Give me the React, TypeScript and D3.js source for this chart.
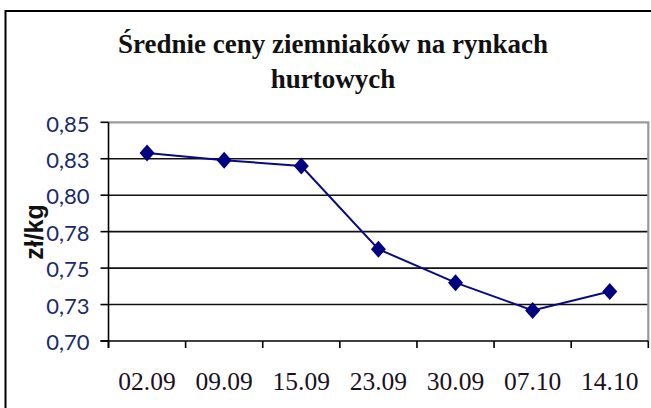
import React, { useEffect, useRef } from 'react';
import * as d3 from 'd3';

const weeks = ['02.09', '09.09', '15.09', '23.09', '30.09', '07.10', '14.10'];
const prices = [0.829, 0.824, 0.82, 0.763, 0.74, 0.721, 0.734];
const yTicks = [0.7, 0.725, 0.75, 0.775, 0.8, 0.825, 0.85];
const yTickLabels = ['0,70', '0,73', '0,75', '0,78', '0,80', '0,83', '0,85'];
const titleLines = ['Średnie ceny ziemniaków na rynkach', 'hurtowych'];

const SERIF = "'Liberation Serif', serif";

export default function App() {
  const ref = useRef<SVGSVGElement | null>(null);

  useEffect(() => {
    const width = 651;
    const height = 408;
    const margin = { top: 122.3, left: 108.5, bottom: 67, right: 2.7 };
    const iwidth = width - margin.left - margin.right;
    const iheight = height - margin.top - margin.bottom;

    const svg = d3.select(ref.current);
    svg.selectAll('*').remove();

    svg.append('rect')
      .attr('x', 0).attr('y', 0)
      .attr('width', width).attr('height', height)
      .attr('fill', '#fff');

    // outer chart frame (runs off the picture at right and bottom)
    svg.append('rect')
      .attr('x', 5.5).attr('y', 11)
      .attr('width', 700).attr('height', 450)
      .attr('fill', 'none')
      .attr('stroke', '#000')
      .attr('stroke-width', 2);

    svg.append('g')
      .selectAll('text')
      .data(titleLines)
      .enter().append('text')
      .attr('x', 333)
      .attr('y', (d, i) => 53 + i * 35)
      .attr('text-anchor', 'middle')
      .style('font-family', SERIF)
      .style('font-weight', 'bold')
      .style('font-size', '27px')
      .attr('fill', '#111')
      .text(d => d);

    const g = svg.append('g').attr('transform', `translate(${margin.left},${margin.top})`);

    const x = d3.scaleBand<string>()
      .domain(weeks)
      .range([0, iwidth]);

    const y = d3.scaleLinear()
      .domain([0.7, 0.85])
      .range([iheight, 0]);

    // grid lines
    g.append('g')
      .selectAll('line')
      .data(yTicks.slice(1, -1))
      .enter().append('line')
      .attr('x1', 0).attr('x2', iwidth)
      .attr('y1', d => y(d)).attr('y2', d => y(d))
      .attr('stroke', '#111')
      .attr('stroke-width', 1.6);

    // plot area border (top and right)
    g.append('path')
      .attr('d', `M0,${y(0.85)}H${iwidth}V${iheight}`)
      .attr('fill', 'none')
      .attr('stroke', '#9a9a9a')
      .attr('stroke-width', 2.2);

    // y axis
    g.append('line')
      .attr('x1', 0).attr('x2', 0)
      .attr('y1', 0).attr('y2', iheight + 7)
      .attr('stroke', '#000')
      .attr('stroke-width', 1.6);

    g.append('g')
      .selectAll('line')
      .data(yTicks)
      .enter().append('line')
      .attr('x1', -8).attr('x2', 0)
      .attr('y1', d => y(d)).attr('y2', d => y(d))
      .attr('stroke', '#000')
      .attr('stroke-width', 1.6);

    g.append('g')
      .selectAll('text')
      .data(yTicks)
      .enter().append('text')
      .attr('x', -19)
      .attr('y', d => y(d))
      .attr('dy', 9.3)
      .attr('text-anchor', 'end')
      .style('font-family', "Lato, 'Open Sans', sans-serif")
      .style('font-size', '22px')
      .attr('fill', '#1c2a6a')
      .text((d, i) => yTickLabels[i]);

    // x axis
    g.append('line')
      .attr('x1', -8).attr('x2', iwidth)
      .attr('y1', iheight).attr('y2', iheight)
      .attr('stroke', '#000')
      .attr('stroke-width', 1.6);

    const bounds = weeks.map(w => x(w) as number).concat([iwidth]);
    g.append('g')
      .selectAll('line')
      .data(bounds)
      .enter().append('line')
      .attr('x1', d => d).attr('x2', d => d)
      .attr('y1', iheight).attr('y2', iheight + 7)
      .attr('stroke', '#000')
      .attr('stroke-width', 1.6);

    g.append('g')
      .selectAll('text')
      .data(weeks)
      .enter().append('text')
      .attr('x', d => (x(d) as number) + x.bandwidth() / 2)
      .attr('y', 390 - margin.top)
      .attr('text-anchor', 'middle')
      .style('font-family', SERIF)
      .style('font-size', '25.5px')
      .attr('fill', '#1a1020')
      .text(d => d);

    // y axis title
    svg.append('text')
      .attr('transform', 'translate(43,232) rotate(-90)')
      .attr('text-anchor', 'middle')
      .style('font-family', "'Liberation Sans', Arial, sans-serif")
      .style('font-weight', 'bold')
      .style('font-size', '25px')
      .attr('fill', '#111')
      .text('zł/kg');

    // series
    const line = d3.line<number>()
      .x((d, i) => (x(weeks[i]) as number) + x.bandwidth() / 2)
      .y(d => y(d));

    g.append('path')
      .datum(prices)
      .attr('d', line)
      .attr('fill', 'none')
      .attr('stroke', '#0a0a80')
      .attr('stroke-width', 2);

    g.append('g')
      .selectAll('path')
      .data(prices)
      .enter().append('path')
      .attr('transform', (d, i) => `translate(${(x(weeks[i]) as number) + x.bandwidth() / 2},${y(d)})`)
      .attr('d', 'M0,-8.5L7.5,0L0,8.5L-7.5,0Z')
      .attr('fill', '#000080');
  }, []);

  return (
    <svg
      ref={ref}
      width={651}
      height={408}
      style={{ position: 'absolute', left: 0, top: 0 }}
    />
  );
}
